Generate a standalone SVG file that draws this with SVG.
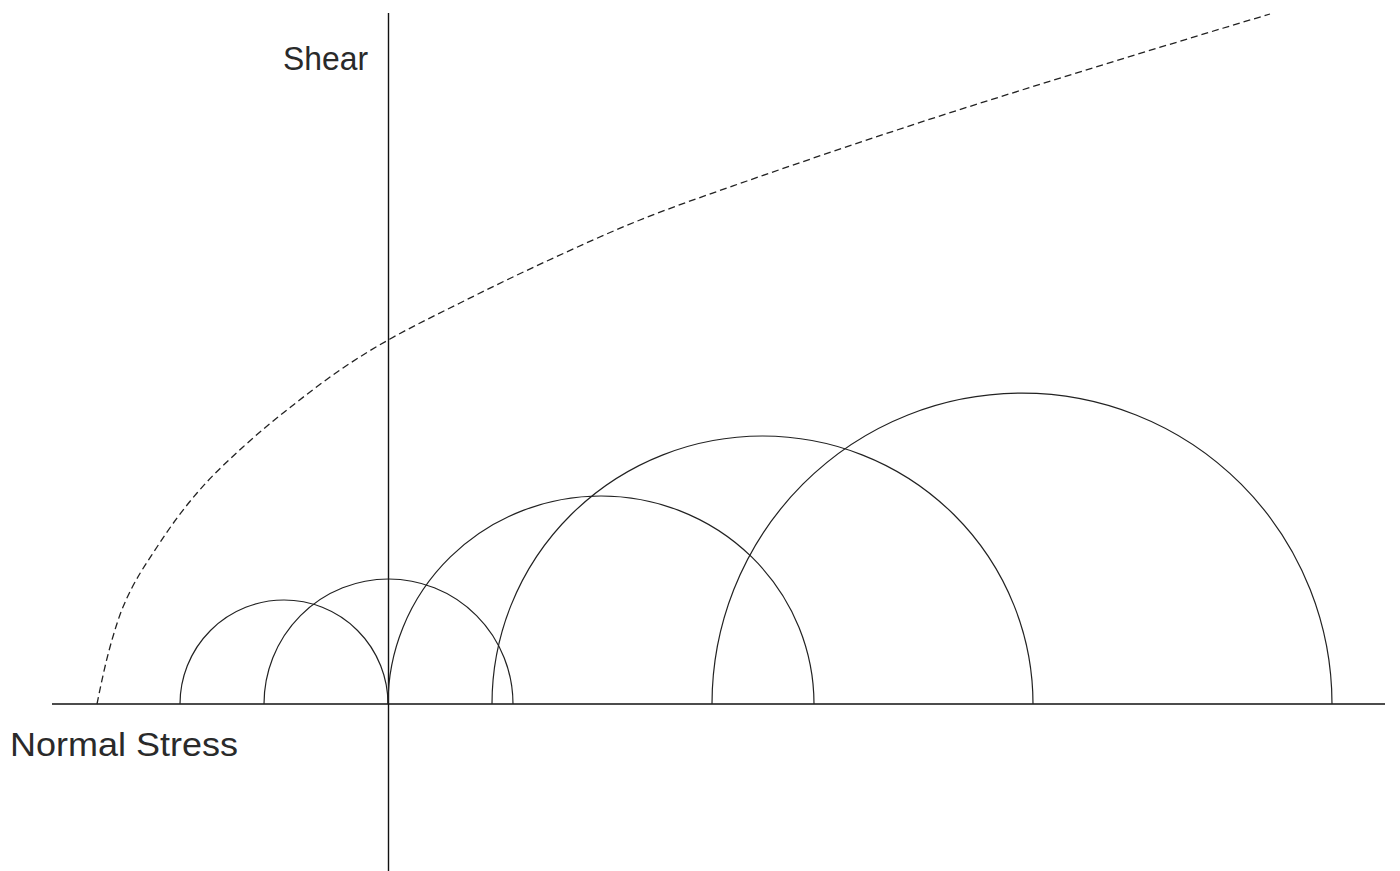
<svg xmlns="http://www.w3.org/2000/svg" width="1400" height="871" viewBox="0 0 1400 871">
<style>
.ax{stroke:#111;stroke-width:1.4;fill:none}
.c{stroke:#222;stroke-width:1.2;fill:none}
.env{stroke:#222;stroke-width:1.3;fill:none;stroke-dasharray:7 4}
.t{font-family:"Liberation Sans",Arial,sans-serif;font-size:34px;fill:#2a2a2a}
</style>
<rect width="1400" height="871" fill="#fff"/>
<g id="axes">
<line class="ax" x1="52" y1="704" x2="1385" y2="704"/>
<line class="ax" x1="388.5" y1="13" x2="388.5" y2="871"/>
</g>
<g id="circles">
<path id="circle1" class="c" d="M180,704 A104,104 0 0 1 388,704"/>
<path id="circle2" class="c" d="M264,704 A124.5,125 0 0 1 513,704"/>
<path id="circle3" class="c" d="M388,704 A213,208 0 0 1 814,704"/>
<path id="circle4" class="c" d="M492,704 A270.5,268 0 0 1 1033,704"/>
<path id="circle5" class="c" d="M712,704 A310,311 0 0 1 1332,704"/>
</g>
<g id="envelope">
<path class="env" d="M97,704 C101.33,682.3 105.67,662.6 110,647 C114.33,631.4 118.67,617.4 123,607 C134.33,579.8 145.67,564.6 157,547 C170.33,526.3 183.67,508.6 197,493 C212.33,475.1 227.67,461 243,447 C261,430.6 279,416 297,402 C312.33,390 327.67,378.4 343,368 C358.67,357.3 374.33,347.8 390,339 C413.33,325.9 436.67,314.7 460,303 C489,288.5 518,274.3 547,261 C578,246.7 609,232.4 640,220 C675.67,205.7 711.33,193.5 747,181 C797,163.5 847,146.5 897,130 C959,109.5 1021,90.2 1083,71 C1145.33,51.7 1207.67,32.7 1270,14"/>
</g>
<g id="labels">
<text class="t" x="283" y="70" textLength="85" lengthAdjust="spacingAndGlyphs">Shear</text>
<text class="t" x="10" y="756" textLength="228" lengthAdjust="spacingAndGlyphs">Normal Stress</text>
</g>
</svg>
